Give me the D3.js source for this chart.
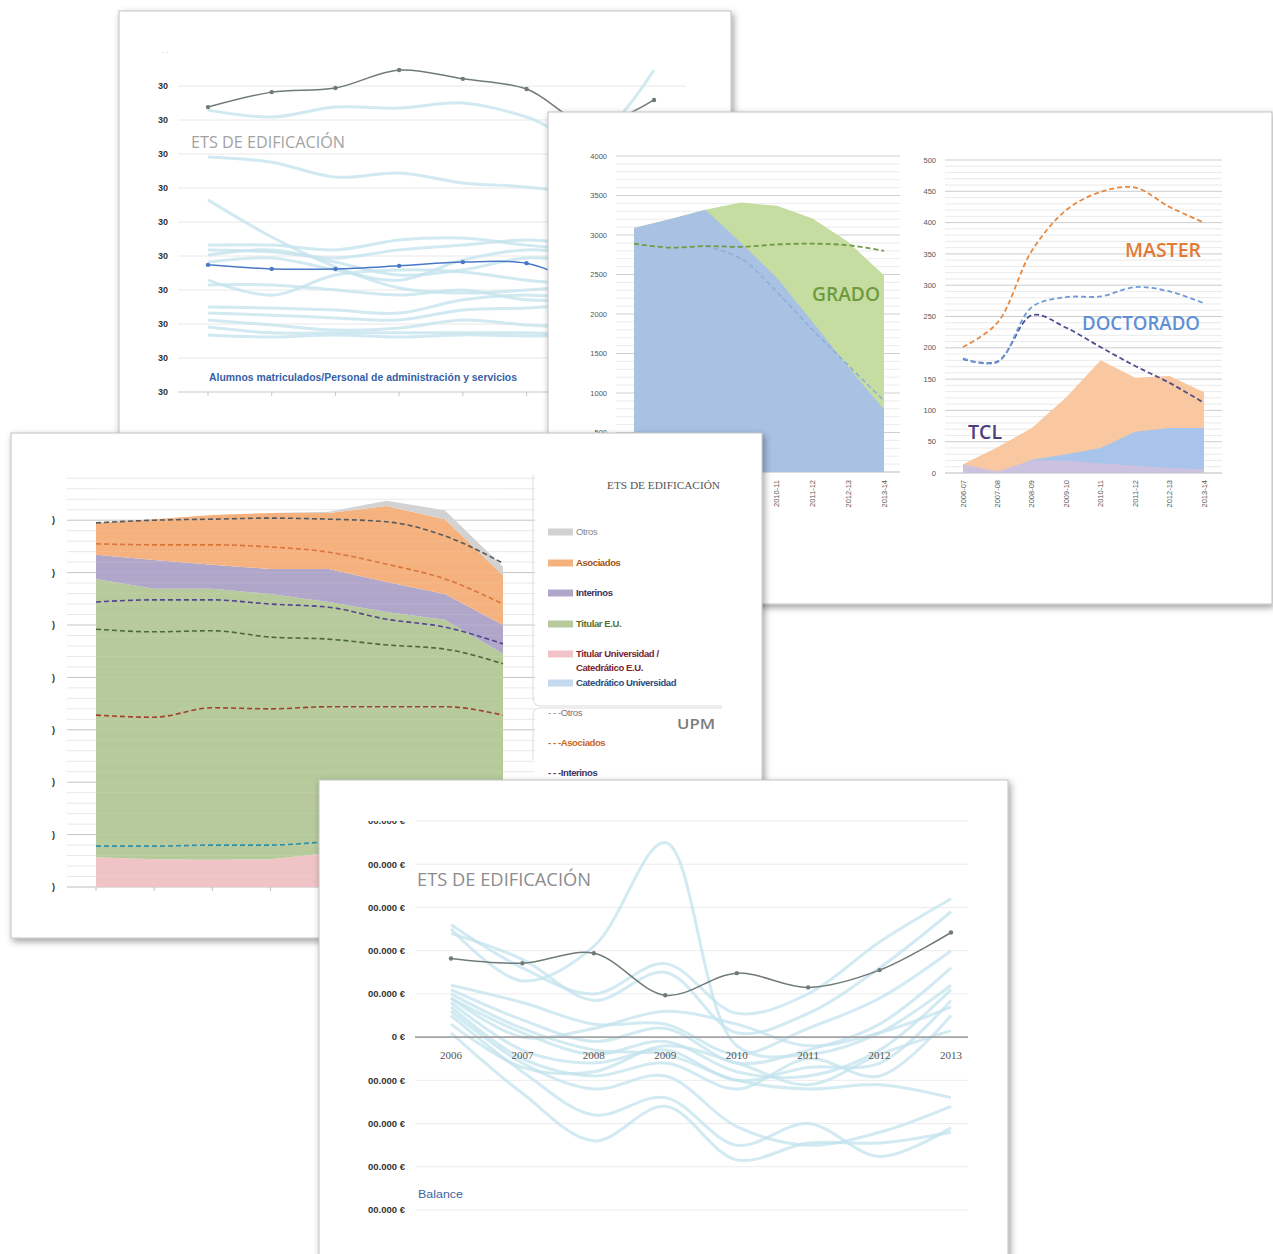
<!DOCTYPE html>
<html><head><meta charset="utf-8">
<script src="https://cdn.jsdelivr.net/npm/d3@7"></script>
<style>body{margin:0;background:#fff}svg{display:block}</style>
</head><body><svg id="c" width="1273" height="1254"></svg>
<script>
// ---------- DATA ----------
const years = ["2006","2007","2008","2009","2010","2011","2012","2013"];
const courses = ["2006-07","2007-08","2008-09","2009-10","2010-11","2011-12","2012-13","2013-14"];

// Panel A: Alumnos matriculados / PAS
const ratioTicks = [0,10,20,30,40,50,60,70,80,90];
const ratioTickLabels = ["30","30","30","30","30","30","30","30","30","30"];
const ratioEts = [83.8, 88.2, 89.4, 94.7, 92.1, 89.1, 78.5, 85.9];
const ratioUpm = [37.4, 36.2, 36.2, 37.1, 38.2, 37.9, 31.5, 30.0];
const ratioOtherSchools = [
  [82.9, 80.9, 83.8, 83.5, 85.0, 80.9, 74.1, 94.7],
  [69.1, 67.6, 63.2, 64.4, 61.5, 60.3, 57.9, 56.5],
  [56.5, 45.6, 36.8, 30.6, 29.1, 30.0, 31.5, 32.9],
  [43.2, 43.2, 41.8, 44.7, 45.3, 43.2, 41.8, 40.3],
  [41.8, 41.2, 39.4, 41.8, 43.2, 44.7, 43.2, 41.8],
  [40.3, 41.8, 38.2, 34.4, 35.9, 39.4, 38.2, 37.4],
  [38.2, 39.4, 35.9, 32.9, 38.8, 41.8, 40.3, 38.8],
  [32.9, 28.5, 34.4, 35.9, 35.3, 32.9, 31.5, 30.0],
  [31.5, 31.5, 30.0, 28.5, 30.0, 27.1, 27.1, 27.1],
  [25.0, 24.7, 24.1, 23.2, 27.1, 28.5, 27.1, 25.6],
  [23.2, 22.6, 21.8, 21.2, 24.1, 24.7, 25.6, 24.1],
  [21.2, 19.7, 18.2, 18.8, 21.2, 19.7, 18.8, 18.2],
  [19.1, 17.4, 17.4, 17.4, 17.4, 17.4, 16.8, 16.8],
  [16.8, 16.2, 16.8, 16.2, 16.8, 16.5, 16.5, 15.9]
];

// Panel B left: students (GRADO)
const gradoTicks = [0,500,1000,1500,2000,2500,3000,3500,4000];
const gradoTickLabels = ["0","500","1000","1500","2000","2500","3000","3500","4000"];
const planAntiguoStudents = [3090, 3200, 3320, 2900, 2460, 1900, 1330, 790];
const gradoStudents = [0, 0, 0, 510, 910, 1310, 1580, 1700];
const totalUpmTrend = [2890, 2840, 2860, 2850, 2880, 2890, 2870, 2800];
const planUpmTrend = [null, null, 2860, 2700, 2280, 1800, 1350, 900];

// Panel B right: MASTER / DOCTORADO / TCL
const postTicks = [0,50,100,150,200,250,300,350,400,450,500];
const postTickLabels = ["0","50","100","150","200","250","300","350","400","450","500"];
const masterStudents = [14, 41, 72, 121, 180, 152, 155, 129];
const doctoradoStudents = [10, 0, 21, 30, 40, 66, 72, 72];
const tclStudents = [14, 3, 20, 20, 15, 12, 8, 6];
const masterUpm = [201, 240, 355, 420, 449, 456, 425, 400];
const doctoradoUpm = [183, 177, 265, 281, 282, 297, 290, 271];
const tclUpm = [182, 178, 252, 232, 201, 171, 144, 112];

// Panel C: teaching staff (stacked) + UPM dashed
const pdiTicks = [0,10,20,30,40,50,60,70];
const pdiTickLabels = [")",")",")",")",")",")",")",")"];
const catUnivEts = [0, 0, 0, 0, 0, 0, 0, 0];
const titUnivEts = [5.7, 5.3, 5.2, 5.3, 6.5, 6.5, 6.3, 6.0];
const titEuEts = [53.1, 51.6, 51.7, 50.6, 47.9, 46.0, 44.7, 38.5];
const interinosEts = [4.6, 5.5, 4.6, 4.8, 6.3, 5.7, 4.9, 5.5];
const asociadosEts = [6.1, 7.8, 9.5, 10.7, 10.7, 14.5, 14.3, 9.5];
const otrosEts = [0, 0, 0, 0, 0.2, 1.0, 1.7, 1.6];
const otrosUpm = [69.5, 70.0, 70.2, 70.4, 70.2, 69.7, 67.0, 61.8];
const asociadosUpm = [65.5, 65.3, 65.3, 64.9, 63.9, 61.6, 58.8, 54.0];
const interinosUpm = [54.4, 54.8, 54.8, 54.0, 53.4, 51.1, 49.6, 46.4];
const titEuUpm = [49.2, 48.7, 48.9, 47.7, 47.3, 46.2, 45.4, 42.6];
const titUnivUpm = [32.8, 32.4, 34.2, 34.0, 34.4, 34.4, 34.4, 32.8];
const catUnivUpm = [7.8, 7.8, 8.0, 8.0, 8.6, 8.8, 8.8, 8.5];

// Panel D: Balance
const balanceTicks = [-400000,-300000,-200000,-100000,0,100000,200000,300000,400000,500000];
const balanceTickLabels = ["00.000 €","00.000 €","00.000 €","00.000 €","0 €","00.000 €","00.000 €","00.000 €","00.000 €","00.000 €"];
const balanceEts = [182000, 171000, 194000, 97000, 148000, 115000, 155000, 242000];
const balanceOtherSchools = [
  [260000, 160000, 100000, 170000, 55000, 100000, 220000, 320000],
  [250000, 130000, 210000, 450000, -20000, -40000, 10000, 120000],
  [240000, 180000, 85000, 150000, 10000, 55000, 160000, 290000],
  [120000, 80000, 30000, 30000, -40000, 20000, 90000, 200000],
  [110000, 40000, -10000, 20000, -60000, -30000, 30000, 160000],
  [90000, 10000, -40000, -10000, -80000, -90000, -30000, 110000],
  [80000, -30000, -60000, -30000, -100000, -70000, -60000, 85000],
  [70000, -50000, -90000, -60000, -120000, -50000, -90000, 50000],
  [30000, -70000, -80000, -20000, -60000, -110000, -40000, 15000],
  [100000, 20000, -30000, -40000, -100000, -120000, -110000, -140000],
  [50000, -80000, -180000, -140000, -250000, -200000, -276000, -210000],
  [10000, -130000, -240000, -160000, -284000, -245000, -245000, -220000],
  [60000, -60000, -120000, -90000, -207000, -250000, -220000, -160000],
  [90000, 0, 20000, 60000, 30000, -20000, 10000, 70000]
];

// ---------- DRAWING ----------
const NARROW = "'Liberation Sans Narrow','Liberation Sans',Arial,sans-serif";
const SANS = "'Open Sans','Liberation Sans',Arial,sans-serif";
const svg = d3.select("#c");
const defs = svg.append("defs");
const f = defs.append("filter").attr("id","sh").attr("x","-5%").attr("y","-5%").attr("width","112%").attr("height","112%");
f.append("feDropShadow").attr("dx",2).attr("dy",3).attr("stdDeviation",3.5).attr("flood-color","#000").attr("flood-opacity",0.38);

function panel(id, x, y, w, h) {
  const g = svg.append("g");
  g.append("rect").attr("x",x).attr("y",y).attr("width",w).attr("height",h)
    .attr("fill","#fff").attr("stroke","#c2c2c2").attr("stroke-width",1).attr("filter","url(#sh)");
  defs.append("clipPath").attr("id",id).append("rect").attr("x",x+0.5).attr("y",y+0.5).attr("width",w-1).attr("height",h-1);
  return g.append("g").attr("clip-path",`url(#${id})`);
}
function hlines(g, vals, scale, x1, x2, color, w) {
  g.append("g").selectAll("line").data(vals).join("line")
    .attr("x1",x1).attr("x2",x2).attr("y1",d=>scale(d)).attr("y2",d=>scale(d))
    .attr("stroke",color).attr("stroke-width",w);
}
function labels(g, vals, texts, scale, x, size, color, family, weight) {
  g.append("g").selectAll("text").data(vals).join("text")
    .attr("x",x).attr("y",d=>scale(d)).attr("dy","0.35em").attr("text-anchor","end")
    .attr("font-family",family||NARROW).attr("font-size",size).attr("fill",color)
    .attr("font-weight",weight||"normal")
    .text((d,i)=>texts[i]);
}

// ===== Panel A =====
const pA = panel("clipA",119,11,612,430);
const xA = d3.scalePoint().domain(years).range([208,654]);
const yA = d3.scaleLinear().domain([0,100]).range([392,52]);
hlines(pA, ratioTicks.slice(1), yA, 178, 686, "#e8e8e8", 1);
hlines(pA, [0], yA, 178, 686, "#c8c8c8", 1.2);
pA.append("g").selectAll("line").data(years).join("line")
  .attr("x1",d=>xA(d)).attr("x2",d=>xA(d)).attr("y1",yA(0)).attr("y2",yA(0)+4).attr("stroke","#c8c8c8");
labels(pA, ratioTicks, ratioTickLabels, yA, 168, 9, "#333", NARROW, "bold");
pA.append("text").attr("x",168).attr("y",yA(100)).attr("dy","0.35em").attr("text-anchor","end")
  .attr("font-size",6).attr("fill","#bbb").attr("font-family",NARROW).text("- -");
const lineA = d3.line().x((d,i)=>xA(years[i])).y(d=>yA(d)).curve(d3.curveCatmullRom.alpha(0.5));
pA.append("g").selectAll("path").data(ratioOtherSchools).join("path")
  .attr("d",lineA).attr("fill","none").attr("stroke","#c6e4ee").attr("stroke-width",3).attr("opacity",0.8);
pA.append("text").attr("x",191).attr("y",148).attr("font-family",SANS).attr("font-size",16)
  .attr("fill","#a3a3a3").attr("textLength",154).attr("lengthAdjust","spacingAndGlyphs").text("ETS DE EDIFICACIÓN");
pA.append("text").attr("x",209).attr("y",381).attr("font-family",NARROW).attr("font-size",10.5).attr("font-weight","bold")
  .attr("fill","#3560a8").attr("textLength",308).attr("lengthAdjust","spacingAndGlyphs")
  .text("Alumnos matriculados/Personal  de administración y servicios");
[[ratioUpm,"#4a78c8"],[ratioEts,"#6f7b78"]].forEach(([vals,col])=>{
  pA.append("path").attr("d",lineA(vals)).attr("fill","none").attr("stroke",col).attr("stroke-width",1.5);
  pA.append("g").selectAll("circle").data(vals).join("circle")
    .attr("cx",(d,i)=>xA(years[i])).attr("cy",d=>yA(d)).attr("r",2.2).attr("fill",col);
});

// ===== Panel B =====
const pB = panel("clipB",548,112,724,492);
// left chart
const xBL = d3.scalePoint().domain(courses).range([634,884]);
const yBL = d3.scaleLinear().domain([0,4000]).range([472,156]);
hlines(pB, d3.range(100,4000,100).filter(v=>v%500!==0), yBL, 616, 900, "#e6e6e6", 0.8);
hlines(pB, gradoTicks.slice(1), yBL, 616, 900, "#cfcfcf", 1);
hlines(pB, [0], yBL, 616, 900, "#bcbcbc", 1.2);
labels(pB, gradoTicks.slice(1), gradoTickLabels.slice(1), yBL, 607, 7.5, "#555");
const areaBLa = d3.area().x((d,i)=>xBL(courses[i])).y0(yBL(0)).y1(d=>yBL(d));
const stackedGrado = planAntiguoStudents.map((v,i)=>v+gradoStudents[i]);
pB.append("path").attr("d",areaBLa(stackedGrado)).attr("fill","#c6dda2");
pB.append("path").attr("d",areaBLa(planAntiguoStudents)).attr("fill","#a9c1e3");
const lineBL = d3.line().defined(d=>d!=null).x((d,i)=>xBL(courses[i])).y(d=>yBL(d)).curve(d3.curveCatmullRom.alpha(0.5));
pB.append("path").attr("d",lineBL(planUpmTrend)).attr("fill","none").attr("stroke","#90acd8").attr("stroke-width",1.5).attr("stroke-dasharray","5,3");
pB.append("path").attr("d",lineBL(totalUpmTrend)).attr("fill","none").attr("stroke","#6f9a45").attr("stroke-width",1.8).attr("stroke-dasharray","5,3");
pB.append("g").selectAll("text").data(courses).join("text")
  .attr("transform",d=>`translate(${xBL(d)},480) rotate(-90)`).attr("dy","0.35em").attr("text-anchor","end")
  .attr("font-family",NARROW).attr("font-size",7.5).attr("fill","#555").text(d=>d);
pB.append("text").attr("x",812).attr("y",301).attr("font-family",SANS).attr("font-size",19).attr("font-weight",600)
  .attr("fill","#6e9b3e").attr("textLength",68).attr("lengthAdjust","spacingAndGlyphs").text("GRADO");
// right chart
const xBR = d3.scalePoint().domain(courses).range([963,1204]);
const yBR = d3.scaleLinear().domain([0,500]).range([473,160]);
hlines(pB, d3.range(10,500,10).filter(v=>v%50!==0), yBR, 945, 1222, "#e4e4e4", 0.8);
hlines(pB, postTicks.slice(1), yBR, 945, 1222, "#cdcdcd", 1);
hlines(pB, [0], yBR, 945, 1222, "#bcbcbc", 1.2);
labels(pB, postTicks, postTickLabels, yBR, 936, 7.5, "#555");
const areaBR = d3.area().x((d,i)=>xBR(courses[i])).y0(yBR(0)).y1(d=>yBR(d));
pB.append("path").attr("d",areaBR(masterStudents)).attr("fill","#f9c8a0");
pB.append("path").attr("d",areaBR(doctoradoStudents)).attr("fill","#a8c4eb");
pB.append("path").attr("d",areaBR(tclStudents)).attr("fill","#cfc2de").attr("opacity",0.9);
const lineBR = d3.line().x((d,i)=>xBR(courses[i])).y(d=>yBR(d)).curve(d3.curveCatmullRom.alpha(0.5));
[[tclUpm,"#4f4f8f"],[doctoradoUpm,"#6f9cd8"],[masterUpm,"#e8883f"]].forEach(([v,c])=>{
  pB.append("path").attr("d",lineBR(v)).attr("fill","none").attr("stroke",c).attr("stroke-width",1.8).attr("stroke-dasharray","5,3");
});
pB.append("g").selectAll("text").data(courses).join("text")
  .attr("transform",d=>`translate(${xBR(d)},480) rotate(-90)`).attr("dy","0.35em").attr("text-anchor","end")
  .attr("font-family",NARROW).attr("font-size",7.5).attr("fill","#555").text(d=>d);
pB.append("text").attr("x",1125).attr("y",257).attr("font-family",SANS).attr("font-size",19).attr("font-weight",600)
  .attr("fill","#e07a36").attr("textLength",76).attr("lengthAdjust","spacingAndGlyphs").text("MASTER");
pB.append("text").attr("x",1082).attr("y",330).attr("font-family",SANS).attr("font-size",19).attr("font-weight",600)
  .attr("fill","#5f90d6").attr("textLength",118).attr("lengthAdjust","spacingAndGlyphs").text("DOCTORADO");
pB.append("text").attr("x",968).attr("y",439).attr("font-family",SANS).attr("font-size",19).attr("font-weight",600)
  .attr("fill","#4e3c7c").attr("textLength",34).attr("lengthAdjust","spacingAndGlyphs").text("TCL");

// ===== Panel C =====
const pC = panel("clipC",11,433,751,505);
const xC = d3.scalePoint().domain(years).range([96,503]);
const yC = d3.scaleLinear().domain([0,78]).range([887,478.3]);
hlines(pC, d3.range(2,79,2).filter(v=>v%10!==0), yC, 67, 535, "#e2e2e2", 0.8);
hlines(pC, pdiTicks.slice(1), yC, 67, 535, "#c4c4c4", 1);
hlines(pC, [0], yC, 67, 535, "#bdbdbd", 1.2);
pC.append("g").selectAll("line").data(years).join("line")
  .attr("x1",d=>xC(d)).attr("x2",d=>xC(d)).attr("y1",yC(0)).attr("y2",yC(0)+4).attr("stroke","#bdbdbd");
labels(pC, pdiTicks, pdiTickLabels, yC, 55, 9, "#333", NARROW, "bold");
const keysC = ["cat","titU","titE","int","aso","otr"];
const colC = {cat:"#c5d9ef",titU:"#f0c3c6",titE:"#b7ca9b",int:"#b0a6ca",aso:"#f5b27f",otr:"#d2d2d2"};
const tableC = years.map((y,i)=>({year:y,cat:catUnivEts[i],titU:titUnivEts[i],titE:titEuEts[i],int:interinosEts[i],aso:asociadosEts[i],otr:otrosEts[i]}));
const stackC = d3.stack().keys(keysC)(tableC);
const areaC = d3.area().x(d=>xC(d.data.year)).y0(d=>yC(d[0])).y1(d=>yC(d[1]));
pC.append("g").selectAll("path").data(stackC).join("path").attr("d",areaC).attr("fill",d=>colC[d.key]);
hlines(pC, d3.range(2,79,2), yC, 96, 503, "rgba(255,255,255,0.12)", 0.8);
const lineC = d3.line().x((d,i)=>xC(years[i])).y(d=>yC(d)).curve(d3.curveMonotoneX);
[[catUnivUpm,"#2f8fa8"],[titUnivUpm,"#a0402e"],[titEuUpm,"#4d6a3b"],[interinosUpm,"#544690"],[asociadosUpm,"#d9763a"],[otrosUpm,"#555a5e"]].forEach(([v,c])=>{
  pC.append("path").attr("d",lineC(v)).attr("fill","none").attr("stroke",c).attr("stroke-width",1.6).attr("stroke-dasharray","5,3");
});
// legend boxes
pC.append("path").attr("d","M533,475 L533,698 Q533,706 541,706 L722,706").attr("fill","none").attr("stroke","#dcdcdc");
pC.append("path").attr("d","M533,760 L533,715 Q533,708 541,708 L722,708").attr("fill","none").attr("stroke","#dcdcdc");
pC.append("text").attr("x",607).attr("y",489).attr("font-family","'Liberation Serif',serif").attr("font-size",11)
  .attr("fill","#555").attr("textLength",113).attr("lengthAdjust","spacingAndGlyphs").text("ETS DE EDIFICACIÓN");
const legendItems = [
  {key:"otr", label:["Otros"], y:532, tc:"#888"},
  {key:"aso", label:["Asociados"], y:563, tc:"#a3520f"},
  {key:"int", label:["Interinos"], y:593, tc:"#3b3162"},
  {key:"titE", label:["Titular E.U."], y:624, tc:"#55702f"},
  {key:"titU", label:["Titular Universidad /","Catedrático E.U."], y:654, tc:"#7a2231"},
  {key:"cat", label:["Catedrático Universidad"], y:683, tc:"#2b4a7e"}
];
legendItems.forEach(it=>{
  pC.append("rect").attr("x",548).attr("y",it.y-3.5).attr("width",25).attr("height",7).attr("fill",colC[it.key]);
  it.label.forEach((t,j)=>{
    pC.append("text").attr("x",576).attr("y",it.y+j*14).attr("dy","0.35em").attr("font-family",NARROW)
      .attr("font-size",9.5).attr("font-weight",it.key==="otr"?"normal":"bold").attr("letter-spacing",-0.4).attr("fill",it.tc).text(t);
  });
});
const legendUpm = [{label:"Otros",y:713,c:"#777",w:"normal"},{label:"Asociados",y:743,c:"#c8661e",w:"bold"},{label:"Interinos",y:773,c:"#3b3162",w:"bold"}];
legendUpm.forEach(it=>{
  pC.append("text").attr("x",548).attr("y",it.y).attr("dy","0.35em").attr("font-family",NARROW)
    .attr("font-size",9.5).attr("font-weight",it.w).attr("letter-spacing",-0.4).attr("fill",it.c).text("- - -"+it.label);
});
pC.append("text").attr("x",677).attr("y",729).attr("font-family",SANS).attr("font-size",14).attr("font-weight",600)
  .attr("fill","#7b7b7b").attr("textLength",38).attr("lengthAdjust","spacingAndGlyphs").text("UPM");

// ===== Panel D =====
const pD = panel("clipD",319,780,689,480);
const xD = d3.scalePoint().domain(years).range([451,951]);
const yD = d3.scaleLinear().domain([-400000,500000]).range([1210,821]);
hlines(pD, balanceTicks.filter(v=>v!==0), yD, 415, 968, "#ececec", 1);
defs.append("clipPath").attr("id","clipDl").append("rect").attr("x",319).attr("y",821).attr("width",120).attr("height",420);
const labD = pD.append("g").attr("clip-path","url(#clipDl)");
labels(labD, balanceTicks, balanceTickLabels, yD, 405, 9.5, "#333", NARROW, "bold");
const lineD = d3.line().x((d,i)=>xD(years[i])).y(d=>yD(d)).curve(d3.curveCatmullRom.alpha(0.5));
pD.append("g").selectAll("path").data(balanceOtherSchools).join("path")
  .attr("d",lineD).attr("fill","none").attr("stroke","#c3e3ec").attr("stroke-width",3).attr("opacity",0.75);
hlines(pD, [0], yD, 415, 968, "#a3a3a3", 1.6);
pD.append("g").selectAll("text").data(years).join("text")
  .attr("x",d=>xD(d)).attr("y",1059).attr("text-anchor","middle").attr("font-family","'Liberation Serif',serif")
  .attr("font-size",11).attr("fill","#555").text(d=>d);
pD.append("path").attr("d",lineD(balanceEts)).attr("fill","none").attr("stroke","#6f7b78").attr("stroke-width",1.5);
pD.append("g").selectAll("circle").data(balanceEts).join("circle")
  .attr("cx",(d,i)=>xD(years[i])).attr("cy",d=>yD(d)).attr("r",2.2).attr("fill","#6f7b78");
pD.append("text").attr("x",417).attr("y",886).attr("font-family",SANS).attr("font-size",19)
  .attr("fill","#8c8c8c").attr("textLength",174).attr("lengthAdjust","spacingAndGlyphs").text("ETS DE EDIFICACIÓN");
pD.append("text").attr("x",418).attr("y",1198).attr("font-family",NARROW).attr("font-size",11)
  .attr("fill","#3b64a3").attr("textLength",45).attr("lengthAdjust","spacingAndGlyphs").text("Balance");
</script></body></html>
